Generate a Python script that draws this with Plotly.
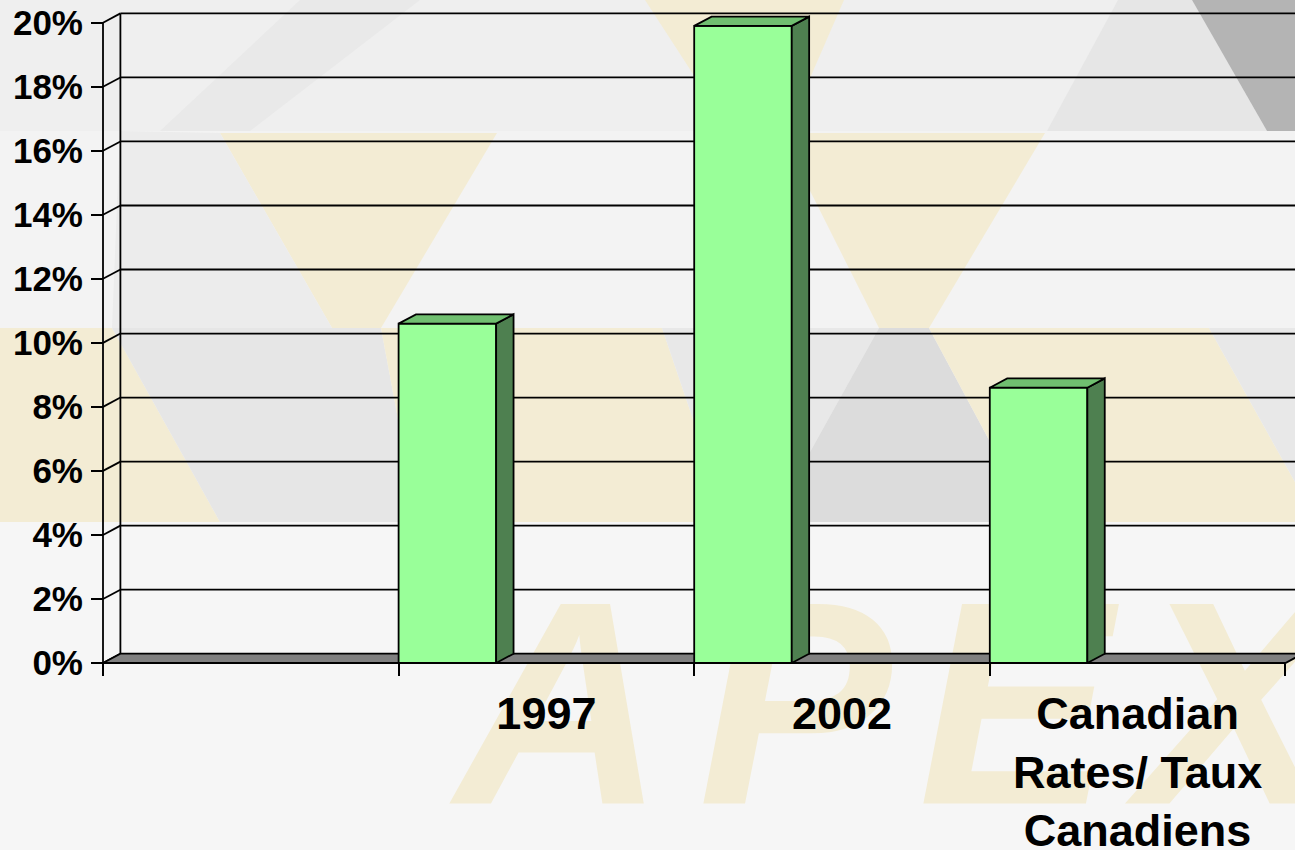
import plotly.graph_objects as go
import numpy as np

# ---------------- data ----------------
categories = ["1997", "2002", "Canadian<br>Rates/ Taux<br>Canadiens"]
values = [10.6, 19.9, 8.6]
y_ticks = [0, 2, 4, 6, 8, 10, 12, 14, 16, 18, 20]
y_tick_labels = [f"{v}%" for v in y_ticks]
leading_empty_slots = 1
n_slots = len(categories) + leading_empty_slots
logo_letters = ["A", "P", "E", "X"]

# ---------------- geometry / style ----------------
W, H = 1295, 850
ML, MR, MT, MB = 100, 0, 10, 0
PW, PH = W - ML - MR, H - MT - MB
X0_PX, Y0_PX = 103, 663          # pixel position of the front-left origin
PX_PER_X = 295.6                 # pixels per category slot
PX_PER_Y = 32.015                # pixels per percent
XMIN = -(X0_PX - ML) / PX_PER_X
XMAX = XMIN + PW / PX_PER_X
YMIN = -(H - MB - Y0_PX) / PX_PER_Y
YMAX = YMIN + PH / PX_PER_Y
AXIS_POS_Y = (H - MB - Y0_PX) / PH
AXIS_POS_X = (X0_PX - ML) / PW
DX = 17.4 / PX_PER_X  # 3-D depth offset
DY = 9.3 / PX_PER_Y
BAR_W = 0.33
FONT = "Liberation Sans, Arial, sans-serif"

FRONT = "#99ff99"
SIDE = "#4e8050"
TOP = "#70bf70"
FLOOR = "#808080"
LINE = "#000000"
YEL = "#f3ecd4"


def to_x(px):
    return (px - X0_PX) / PX_PER_X


def to_y(py):
    return (Y0_PX - py) / PX_PER_Y


fig = go.Figure()

# faint APEX logo of the slide template, behind the chart
logo_px = [560, 795, 1015, 1235]
fig.add_trace(go.Scatter(
    x=[to_x(p) for p in logo_px], y=[to_y(731)] * 4, mode="text",
    text=[f"<b><i>{c}</i></b>" for c in logo_letters], textposition="middle center",
    cliponaxis=False,
    textfont=dict(family=FONT, size=290, color=YEL),
    hoverinfo="skip", showlegend=False))

# back-wall gridlines
gx, gy = [], []
for v in y_ticks[1:]:
    gx += [DX, n_slots + DX, None]
    gy += [v + DY, v + DY, None]
# back wall vertical edge
gx += [DX, DX, None]
gy += [DY, y_ticks[-1] + DY, None]
# left wall: front edge and diagonals
gx += [0, 0, None]
gy += [0, y_ticks[-1], None]
for v in y_ticks:
    gx += [0, DX, None]
    gy += [v, v + DY, None]
fig.add_trace(go.Scatter(x=gx, y=gy, mode="lines", line=dict(color=LINE, width=1.8),
                         hoverinfo="skip", showlegend=False))

# floor
fig.add_trace(go.Scatter(
    x=[0, n_slots, n_slots + DX, DX, 0], y=[0, 0, DY, DY, 0], mode="lines",
    fill="toself", fillcolor=FLOOR, line=dict(color=LINE, width=1.8),
    hoverinfo="skip", showlegend=False))

bar_left = np.arange(len(categories)) + leading_empty_slots

# 3-D bars: front, side, top faces
for xl, v in zip(bar_left, values):
    xr = xl + BAR_W
    fig.add_trace(go.Scatter(
        x=[xl, xr, xr, xl, xl], y=[0, 0, v, v, 0], mode="lines",
        fill="toself", fillcolor=FRONT, line=dict(color=LINE, width=1.8),
        hoverinfo="skip", showlegend=False))
    fig.add_trace(go.Scatter(
        x=[xr, xr + DX, xr + DX, xr, xr], y=[0, DY, v + DY, v, 0], mode="lines",
        fill="toself", fillcolor=SIDE, line=dict(color=LINE, width=1.8),
        hoverinfo="skip", showlegend=False))
    fig.add_trace(go.Scatter(
        x=[xl, xr, xr + DX, xl + DX, xl], y=[v, v, v + DY, v + DY, v], mode="lines",
        fill="toself", fillcolor=TOP, line=dict(color=LINE, width=1.8),
        hoverinfo="skip", showlegend=False))

# invisible trace so the overlay tick axes are drawn
fig.add_trace(go.Scatter(x=[None], y=[None], xaxis="x2", yaxis="y2",
                         hoverinfo="skip", showlegend=False))


# ---------------- background decoration (slide template) ----------------
def pp(px, py):
    return (px - ML) / PW, (H - MB - py) / PH


def poly(pts, color):
    d = ""
    for i, (a, b) in enumerate(pts):
        u, w = pp(a, b)
        d += ("M" if i == 0 else "L") + f"{u:.5f},{w:.5f} "
    return dict(type="path", path=d + "Z", xref="paper", yref="paper",
                fillcolor=color, line=dict(width=0), layer="below")


shapes = [
    dict(type="rect", xref="paper", yref="paper", x0=pp(0, 0)[0], x1=pp(W, 0)[0],
         y0=pp(0, 0)[1], y1=pp(0, 131)[1], fillcolor="#efefef", line=dict(width=0), layer="below"),
    dict(type="rect", xref="paper", yref="paper", x0=pp(0, 0)[0], x1=pp(W, 0)[0],
         y0=pp(0, 522)[1], y1=pp(0, 850)[1], fillcolor="#f6f6f6", line=dict(width=0), layer="below"),
    poly([(1118, 0), (1192, 0), (1267, 131), (1047, 131)], "#e6e6e6"),
    poly([(1192, 0), (1295, 0), (1295, 131), (1267, 131)], "#b4b4b4"),
    poly([(300, 0), (420, 0), (250, 131), (160, 131)], "#e9e9e9"),
    poly([(645, 0), (844, 0), (787, 131), (730, 131)], YEL),
    poly([(220, 133), (497, 133), (381, 328), (332, 328)], YEL),
    poly([(781, 133), (1045, 133), (929, 328), (879, 328)], YEL),
    poly([(120, 131), (220, 133), (332, 328), (112, 328)], "#ececec"),
    poly([(0, 328), (112, 328), (220, 522), (0, 522)], YEL),
    poly([(112, 328), (381, 328), (417, 522), (220, 522)], "#e6e6e6"),
    poly([(381, 328), (662, 328), (728, 522), (417, 522)], YEL),
    poly([(662, 328), (879, 328), (771, 522), (728, 522)], "#e8e8e8"),
    poly([(879, 328), (929, 328), (1033, 522), (771, 522)], "#dcdcdc"),
    poly([(929, 328), (1209, 328), (1295, 482), (1295, 522), (1033, 522)], YEL),
    poly([(1209, 328), (1295, 328), (1295, 482)], "#e8e8e8"),
]

tick_font = dict(family=FONT, size=35, color="black", weight="bold")
cat_font = dict(family=FONT, size=45, color="black", weight="bold")

fig.update_layout(
    width=W, height=H,
    margin=dict(l=ML, r=MR, t=MT, b=MB, autoexpand=False),
    paper_bgcolor="#f3f3f3", plot_bgcolor="rgba(0,0,0,0)",
    shapes=shapes, showlegend=False,
    xaxis=dict(range=[XMIN, XMAX], anchor="free", position=AXIS_POS_Y, side="bottom",
               tickmode="array", tickvals=list(bar_left + 0.5),
               ticktext=categories, ticks="", showgrid=False, zeroline=False,
               showline=False, tickfont=cat_font, ticklabelstandoff=20, fixedrange=True),
    xaxis2=dict(range=[XMIN, XMAX], overlaying="x", anchor="free", position=AXIS_POS_Y,
                side="bottom", tickmode="array", tickvals=list(range(n_slots + 1)),
                ticks="outside", ticklen=12, tickwidth=1.6, tickcolor="black",
                showticklabels=False, showgrid=False, zeroline=False, showline=False,
                fixedrange=True),
    yaxis=dict(range=[YMIN, YMAX], showticklabels=False, ticks="", showgrid=False,
               zeroline=False, showline=False, fixedrange=True),
    yaxis2=dict(range=[YMIN, YMAX], overlaying="y", anchor="free", position=AXIS_POS_X,
                side="left", tickmode="array", tickvals=y_ticks, ticktext=y_tick_labels,
                ticks="outside", ticklen=12, tickwidth=1.6, tickcolor="black",
                tickfont=tick_font, ticklabelstandoff=1, showgrid=False,
                zeroline=False, showline=False, fixedrange=True),
)

fig.write_html("out.html", config={"displayModeBar": False},
               post_script="document.body.style.margin='0';")
